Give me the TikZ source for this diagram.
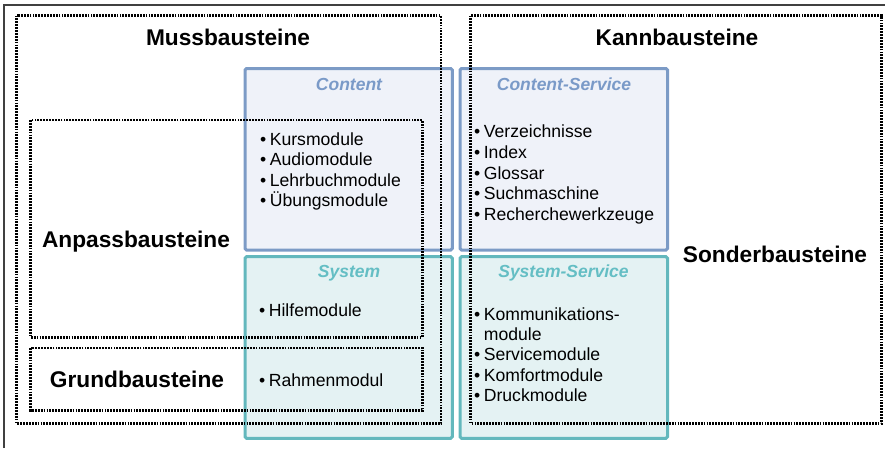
\documentclass[tikz,border=0pt]{standalone}
\usepackage{fontspec}
\setmainfont{Liberation Sans}
\definecolor{cblue}{RGB}{124,155,198}
\definecolor{cbluefill}{RGB}{239,242,249}
\definecolor{cteal}{RGB}{99,184,189}
\definecolor{ctealfill}{RGB}{228,242,243}
\definecolor{ctitleblue}{RGB}{122,154,200}
\definecolor{ctitleteal}{RGB}{100,190,196}
\newcommand{\itm}{•\hspace{3.5pt}}
\begin{document}
\begin{tikzpicture}[x=1pt,y=-1pt,
  head/.style={anchor=base,inner sep=0pt,font=\fontsize{22.7}{26}\selectfont\bfseries},
  title/.style={anchor=base,inner sep=0pt,font=\fontsize{17.5}{20}\selectfont\bfseries\itshape},
  item/.style={anchor=base west,inner sep=0pt,font=\fontsize{17.6}{20}\selectfont},
  dots/.style={line width=2.7pt,dash pattern=on 1.8pt off 1.1pt}]
\useasboundingbox (0,0) rectangle (885,448);
\draw[line width=1.5pt,black!75] (4.2,448) -- (4.2,5) -- (885,5);

% coloured module boxes
\draw[line width=3pt,rounded corners=1.5pt,cblue,fill=cbluefill] (245,68.5) rectangle (452.3,250);
\draw[line width=3pt,rounded corners=1.5pt,cblue,fill=cbluefill] (460,68.5) rectangle (667.5,250);
\draw[line width=3pt,rounded corners=1.5pt,cteal,fill=ctealfill] (245,256.7) rectangle (452.3,438.3);
\draw[line width=3pt,rounded corners=1.5pt,cteal,fill=ctealfill] (460,256.7) rectangle (667.5,438.3);

\node[title,ctitleblue] (content) at (349,90) {Content};
\node[title,ctitleblue] (contentsrv) at (564,90) {Content-Service};
\node[title,ctitleteal] (system) at (349,277) {System};
\node[title,ctitleteal] (systemsrv) at (563.5,277) {System-Service};

\foreach \txt [count=\i] in {Kursmodule,Audiomodule,Lehrbuchmodule,Übungsmodule}
\node[item] (c\i) at (260,145+20.5*\i-20.5) {\itm\txt};
\foreach \txt [count=\i] in {Verzeichnisse,Index,Glossar,Suchmaschine,Recherchewerkzeuge}
\node[item] (cs\i) at (474,137.7+20.75*\i-20.75) {\itm\txt};
\node[item] (s1) at (259,316.7) {\itm Hilfemodule};
\node[item] (s2) at (259,386) {\itm Rahmenmodul};
\foreach \txt [count=\i] in {\itm Kommunikations-,\phantom{\itm}module,\itm Servicemodule,\itm Komfortmodule,\itm Druckmodule}
\node[item] (ss\i) at (474,320+20.4*\i-20.4) {\txt};

% dotted groups
\draw[dots] (16.5,15.5) rectangle (441,423.5);
\draw[dots] (470.7,15.5) rectangle (881.5,423.5);
\draw[dots] (30.7,120) rectangle (422.3,337.3);
\draw[dots] (30.7,348) rectangle (422.3,410.5);

\node[head] (muss) at (228,45) {Mussbausteine};
\node[head] (kann) at (677,45) {Kannbausteine};
\node[head] (anpass) at (136,247) {Anpassbausteine};
\node[head] (grund) at (137,387) {Grundbausteine};
\node[head] (sonder) at (775,262) {Sonderbausteine};
\end{tikzpicture}
\end{document}
